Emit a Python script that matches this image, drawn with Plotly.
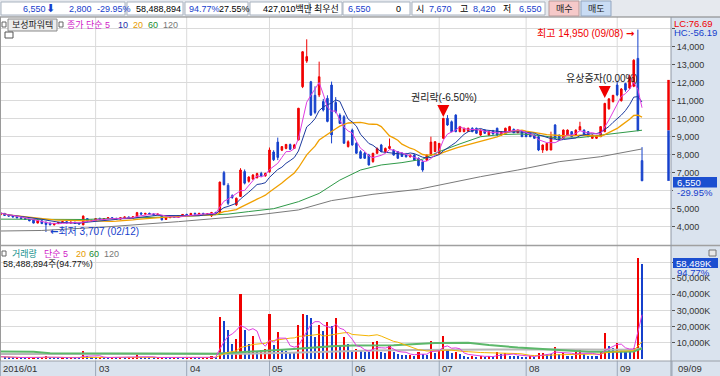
import plotly.graph_objects as go
import pandas as pd

# ---------------- data (trading-day index 0 = 2016-01-25 ... 155 = 2016-09-09) ----------------
month_pos = [0, 23, 45, 65, 85, 106, 127, 149]
month_labels = ["2016/01", "03", "04", "05", "06", "07", "08", "09"]
last_label = "09/09"

opens = [4650, 4740, 4640, 4600, 4560, 4500, 4450, 4400, 4400, 4200,
         4330, 4250, 4200, 4100, 4180, 4240, 4280, 4200, 4250, 4190,
         4100, 4450, 4300, 4350, 4460, 4400, 4450, 4500, 4460, 4420,
         4500, 4540, 4480, 4560, 4760, 4700, 4740, 4700, 4660, 4600,
         4400, 4500, 4560, 4520, 4620, 4680, 4650, 4740, 4700, 4740,
         4690, 4600, 4780, 4780, 7000, 6300, 5720, 5220, 5680, 7060,
         6520, 6650, 6720, 6960, 6820, 7050, 8150, 8700, 8250, 8350,
         8560, 8350, 8820, 11780, 13200, 12050, 11300, 11320, 10950, 11130,
         11870, 10900, 10200, 10110, 8450, 9370, 8630, 8170, 8080, 7980,
         7620, 8080, 8540, 8170, 8350, 8260, 8170, 8080, 8000, 7880,
         7980, 7800, 7600, 7700, 7980, 8170, 8080, 8910, 10020, 9830,
         10200, 9280, 9280, 9300, 9470, 9470, 9090, 9370, 9090, 9330,
         9470, 9090, 9190, 9280, 9410, 9220, 9280, 9280, 9190, 9090,
         9000, 8260, 8260, 8260, 9650, 9090, 8910, 9090, 9280, 9090,
         9370, 9370, 9280, 8910, 8910, 9000, 9280, 10550, 10950, 11870,
         11000, 11950, 11700, 11800, 13350, 7670]
highs = [4780, 4760, 4680, 4620, 4580, 4530, 4480, 4420, 4410, 4400,
         4350, 4280, 4220, 4200, 4260, 4300, 4320, 4280, 4270, 4220,
         4620, 4480, 4380, 4480, 4500, 4470, 4520, 4530, 4500, 4520,
         4560, 4560, 4560, 4820, 4800, 4760, 4780, 4740, 4720, 4620,
         4520, 4580, 4600, 4640, 4700, 4720, 4760, 4780, 4760, 4770,
         4740, 4820, 4830, 6500, 7100, 6420, 5800, 5620, 7250, 7180,
         6800, 6920, 7000, 7050, 7000, 8400, 8250, 8950, 8480, 8600,
         8620, 8600, 10600, 13750, 14410, 12100, 11800, 13170, 11100, 11300,
         12060, 11200, 10300, 10200, 8800, 9450, 8700, 8250, 8150, 8050,
         8100, 8400, 8600, 8400, 8900, 8300, 8200, 8150, 8100, 8000,
         8050, 7850, 7700, 8000, 9000, 8750, 8650, 10050, 10200, 9900,
         10250, 9600, 9500, 9500, 9520, 9500, 9400, 9420, 9300, 9380,
         9500, 9300, 9500, 9600, 9450, 9400, 9300, 9300, 9220, 9120,
         9050, 8560, 8650, 9280, 9700, 9120, 9400, 9400, 9300, 9400,
         9830, 9400, 9300, 9120, 9060, 9580, 10880, 11150, 11320, 12100,
         11700, 12000, 12450, 13300, 14950, 8420]
lows = [4620, 4600, 4560, 4520, 4470, 4420, 4380, 4300, 4180, 4190,
        4150, 3707, 4080, 4080, 4150, 4200, 4180, 4180, 4170, 4120,
        4090, 4250, 4260, 4330, 4380, 4380, 4420, 4430, 4400, 4410,
        4470, 4460, 4470, 4540, 4660, 4650, 4680, 4640, 4640, 4350,
        4380, 4480, 4500, 4510, 4600, 4620, 4640, 4680, 4680, 4670,
        4660, 4540, 4720, 4760, 6300, 5200, 5550, 5150, 5650, 6350,
        6450, 6600, 6680, 6780, 6780, 7000, 7650, 7700, 8200, 8300,
        8250, 8320, 8800, 11700, 13100, 10150, 10250, 11200, 10400, 9800,
        8630, 10300, 9700, 8600, 8400, 8500, 8050, 7780, 7780, 7400,
        7550, 8050, 8150, 8100, 8300, 7950, 7780, 7880, 7850, 7850,
        7650, 7350, 7050, 7650, 7950, 8150, 8050, 8900, 9600, 9250,
        9250, 9250, 9250, 9280, 9250, 9150, 9050, 9150, 9050, 9120,
        9050, 9050, 9150, 9250, 9200, 9200, 8980, 8980, 8980, 8880,
        8200, 8100, 8200, 8250, 8880, 8780, 8880, 9050, 8980, 9050,
        9350, 9050, 8980, 8880, 8880, 8980, 9250, 10500, 10900, 11250,
        10950, 11500, 11650, 11750, 9300, 6550]
closes = [4760, 4620, 4590, 4540, 4490, 4450, 4400, 4330, 4200, 4360,
          4170, 4120, 4100, 4180, 4240, 4280, 4200, 4250, 4190, 4150,
          4590, 4300, 4350, 4450, 4400, 4450, 4500, 4460, 4420, 4500,
          4540, 4480, 4550, 4780, 4700, 4740, 4700, 4660, 4700, 4380,
          4500, 4560, 4520, 4620, 4680, 4650, 4740, 4700, 4740, 4690,
          4720, 4790, 4760, 6480, 6330, 5300, 5620, 5580, 7150, 6420,
          6760, 6870, 6950, 6820, 6960, 8260, 7720, 7850, 8450, 8570,
          8300, 8540, 10580, 13720, 13450, 10200, 10350, 12330, 10480, 9850,
          9100, 10390, 9740, 8640, 8720, 8540, 8080, 7800, 7800, 7430,
          8080, 8350, 8170, 8350, 8460, 7980, 7800, 7900, 7880, 7980,
          7700, 7400, 7150, 7980, 8700, 8720, 8630, 10020, 9650, 9280,
          9280, 9560, 9470, 9470, 9280, 9190, 9370, 9190, 9280, 9150,
          9090, 9280, 9470, 9560, 9220, 9370, 9000, 9000, 9000, 8910,
          8260, 8540, 8630, 9000, 8910, 8820, 9370, 9370, 9000, 9370,
          9560, 9090, 9000, 9090, 9040, 9560, 10850, 11100, 11300, 11320,
          11650, 11600, 12300, 13250, 9350, 6550]
volume_k = [1300, 900, 800, 700, 900, 700, 600, 800, 1100, 900,
            1000, 1500, 900, 700, 600, 700, 600, 800, 700, 600,
            5000, 1800, 900, 800, 1000, 700, 600, 900, 700, 800,
            600, 700, 800, 2900, 1200, 800, 700, 600, 700, 1200,
            800, 600, 700, 600, 500, 600, 700, 600, 500, 700,
            800, 1600, 900, 25650, 23600, 18000, 9000, 12000, 40400, 18000,
            9000, 14000, 4500, 5600, 5900, 27900, 8300, 16500, 6200, 5000,
            4500, 4000, 21000, 27900, 27300, 25600, 13300, 21000, 17500, 22600,
            20600, 25600, 8300, 13300, 9100, 4400, 5800, 4800, 4400, 4200,
            10400, 10800, 4400, 3500, 8100, 4000, 3000, 2600, 2500, 2600,
            2000, 4400, 2700, 2600, 10800, 3300, 5400, 14300, 6200, 3500,
            4400, 2800, 1500, 1400, 2000, 1200, 1600, 1300, 1500, 1200,
            4300, 2900, 3700, 2000, 1800, 1600, 1400, 1300, 1500, 1300,
            3700, 3900, 3200, 3000, 7200, 2900, 3300, 2000, 1800, 4300,
            6000, 2900, 2000, 1800, 1500, 4300, 15800, 8100, 7000, 9500,
            5000, 4400, 4300, 7000, 62500, 58489]

# long moving averages (their windows start before the visible range)
ma60_idx = [0, 20, 43, 55, 60, 66, 72, 77, 82, 87, 92, 97, 102, 106, 111, 116, 121, 126, 131, 135, 140, 145, 150, 155]
ma60_val = [4420, 4400, 4560, 4700, 4840, 5000, 5390, 5850, 6590, 7150, 7430, 7560, 7750, 8170, 8600, 9000, 9120, 9150, 9050, 8910, 8950, 9090, 9220, 9360]
ma120_idx = [0, 10, 25, 43, 62, 72, 80, 90, 101, 106, 116, 125, 135, 145, 155]
ma120_val = [3760, 3790, 3980, 4280, 4650, 4930, 5450, 5800, 6076, 6316, 6780, 7150, 7612, 7890, 8320]
vma60_idx = [0, 8, 12, 30, 52, 56, 60, 65, 70, 75, 80, 85, 95, 105, 113, 118, 125, 135, 142, 150, 153, 154, 155]
vma60_val = [4500, 4400, 3500, 3300, 3200, 3700, 4500, 5200, 6000, 7000, 7800, 8300, 8400, 9800, 9900, 8500, 7000, 5500, 4400, 4400, 4500, 5500, 6400]
vma120_idx = [0, 52, 60, 70, 80, 90, 100, 110, 120, 140, 153, 154, 155]
vma120_val = [3000, 2800, 3200, 3800, 4600, 5100, 5400, 5600, 5700, 5700, 5600, 6100, 6500]

price_ticks = list(range(4000, 15001, 1000))
vol_ticks = [10000, 20000, 30000, 40000, 50000, 60000]

# ---------------- derived ----------------
idx = list(range(len(closes)))
cs = pd.Series(closes, dtype=float)
ma5 = cs.rolling(5, min_periods=1).mean()
ma10 = cs.rolling(10, min_periods=1).mean()
ma20 = cs.rolling(20, min_periods=1).mean()
vs = pd.Series(volume_k, dtype=float)
vma5 = vs.rolling(5, min_periods=1).mean()
vma20 = vs.rolling(20, min_periods=1).mean()

RED = "#f00000"
BLUE = "#1540cc"
GRID = "#dadada"
AXBG = "#dae3ee"
vol_colors = [RED if i == 0 or volume_k[i] >= volume_k[i - 1] else BLUE for i in idx]

# ---------------- geometry ----------------
W, H = 720, 376
ML, MR, MT, MB = 0, 49, 17, 15
PW, PH = W - ML - MR, H - MT - MB


def px(x):
    return (x - ML) / PW


def py(y):
    return (H - MB - y) / PH


XR = [-0.1, 162.0]
NUMF = "Liberation Sans, Noto Sans CJK KR, sans-serif"
KFONT = "Liberation Sans, Noto Sans CJK KR, sans-serif"
ARROWF = "font-family:'DejaVu Sans';font-weight:bold"

fig = go.Figure()
fig.add_trace(go.Candlestick(
    x=idx, open=opens, high=highs, low=lows, close=closes,
    increasing=dict(line=dict(color=RED, width=1), fillcolor=RED),
    decreasing=dict(line=dict(color=BLUE, width=1), fillcolor=BLUE),
    whiskerwidth=0, hoverinfo="skip", showlegend=False, xaxis="x", yaxis="y"))
fig.add_trace(go.Scatter(x=ma120_idx, y=ma120_val, mode="lines", line=dict(color="#7a7a7a", width=1), xaxis="x", yaxis="y"))
fig.add_trace(go.Scatter(x=ma60_idx, y=ma60_val, mode="lines", line=dict(color="#2f9a48", width=1), xaxis="x", yaxis="y"))
fig.add_trace(go.Scatter(x=idx, y=ma20, mode="lines", line=dict(color="#f0a000", width=1.3), xaxis="x", yaxis="y"))
fig.add_trace(go.Scatter(x=idx, y=ma10, mode="lines", line=dict(color="#1c3a9e", width=1), xaxis="x", yaxis="y"))
fig.add_trace(go.Scatter(x=idx, y=ma5, mode="lines", line=dict(color="#e03ce0", width=1), xaxis="x", yaxis="y"))

fig.add_trace(go.Bar(x=idx, y=volume_k, width=0.5, marker=dict(color=vol_colors, line=dict(width=0)), xaxis="x2", yaxis="y2"))
fig.add_trace(go.Scatter(x=vma120_idx, y=vma120_val, mode="lines", line=dict(color="#b8b8b8", width=2), xaxis="x2", yaxis="y2"))
fig.add_trace(go.Scatter(x=vma60_idx, y=vma60_val, mode="lines", line=dict(color="#5cb86a", width=2), xaxis="x2", yaxis="y2"))
fig.add_trace(go.Scatter(x=idx, y=vma20, mode="lines", line=dict(color="#f5b400", width=1), xaxis="x2", yaxis="y2"))
fig.add_trace(go.Scatter(x=idx, y=vma5, mode="lines", line=dict(color="#e03ce0", width=1), xaxis="x2", yaxis="y2"))

axis_font = dict(family="Liberation Sans, sans-serif", size=9, color="#333333")
fig.update_layout(
    width=W, height=H, margin=dict(l=ML, r=MR, t=MT, b=MB, autoexpand=False),
    paper_bgcolor="white", plot_bgcolor="white", showlegend=False, hovermode=False,
    boxgap=0.45, bargap=0,
    xaxis=dict(domain=[0, 1], range=XR, showgrid=False, zeroline=False, showticklabels=False,
               rangeslider=dict(visible=False), anchor="y", showline=False, ticks=""),
    xaxis2=dict(domain=[0, 1], range=XR, showgrid=False, zeroline=False, showticklabels=False,
                anchor="y2", showline=False, ticks=""),
    yaxis=dict(domain=[py(245), 1], range=[2983, 15650], side="right", anchor="x",
               tickvals=price_ticks, ticktext=[f"{v:,}" if v < 15000 else "" for v in price_ticks],
               showgrid=True, gridcolor=GRID, gridwidth=1, zeroline=False,
               ticks="outside", ticklen=3, tickcolor="#555555", tickfont=axis_font,
               showline=False),
    yaxis2=dict(domain=[0, py(247)], range=[-1360, 69300], side="right", anchor="x2",
                tickvals=vol_ticks, ticktext=[f"{v:,}K" for v in vol_ticks],
                showgrid=True, gridcolor=GRID, gridwidth=1, zeroline=False,
                ticks="outside", ticklen=3, tickcolor="#555555", tickfont=axis_font,
                showline=False),
)

shapes = []
ann = []


def rect(x0, y0, x1, y1, fill, line=None, layer="above", lw=1):
    shapes.append(dict(type="rect", xref="paper", yref="paper", x0=px(x0), x1=px(x1), y0=py(y1), y1=py(y0),
                       fillcolor=fill, line=dict(color=line or fill, width=lw if line else 0), layer=layer))


def hline(x0, x1, y, color, w=1):
    shapes.append(dict(type="line", xref="paper", yref="paper", x0=px(x0), x1=px(x1), y0=py(y), y1=py(y),
                       line=dict(color=color, width=w), layer="above"))


def vline(x, y0, y1, color, w=1):
    shapes.append(dict(type="line", xref="paper", yref="paper", x0=px(x), x1=px(x), y0=py(y0), y1=py(y1),
                       line=dict(color=color, width=w), layer="above"))


def text(x, y, s, color="#000000", size=9, anchor="left", family=NUMF, bg=None):
    a = dict(xref="paper", yref="paper", x=px(x), y=py(y), text=s, showarrow=False,
             xanchor=anchor, yanchor="middle", borderpad=0,
             font=dict(family=family, size=size, color=color))
    if bg:
        a["bgcolor"] = bg
    ann.append(a)


# backgrounds outside the plot area
rect(671, 17, 720, 376, AXBG, layer="below")
rect(0, 361, 720, 376, AXBG, layer="below")
rect(0, 0, 720, 17, "#e6e9ee", layer="below")

# month grid lines across both panels and separators in the date strip
for m in month_pos[1:]:
    shapes.append(dict(type="line", xref="x", yref="paper", x0=m, x1=m, y0=0, y1=1,
                       line=dict(color=GRID, width=1), layer="below"))
for m in month_pos:
    xx = 0.4 + 4.14 * m
    vline(xx, 361, 376, "#9aa7b8")
vline(672, 361, 376, "#9aa7b8")

# frame lines
hline(0, 720, 17, "#7f7f7f")
hline(0, 720, 245.5, "#a0a0a0", 1.5)
hline(0, 720, 361, "#9aa0a8")
vline(671, 17, 376, "#8f98a4")
vline(0.5, 17, 361, "#9a9a9a")

# price-limit bar beside the last candle
prev_close = closes[-2]
shapes.append(dict(type="rect", xref="x", yref="y", x0=161.1, x1=161.7, y0=prev_close, y1=prev_close * 1.3,
                   fillcolor=RED, line=dict(width=0)))
shapes.append(dict(type="rect", xref="x", yref="y", x0=161.1, x1=161.7, y0=prev_close * 0.7, y1=prev_close,
                   fillcolor=BLUE, line=dict(width=0)))

# ---------------- header strip ----------------
for (x0, x1) in [(1, 125), (127, 183), (185, 248), (250, 309), (310, 342), (343, 410), (412, 545)]:
    rect(x0, 2, x1, 15, "white", "#a9b3c0")
rect(549, 1, 579, 16, "#f6c9c9", "#b79a9a")
rect(581, 1, 611, 16, "#c9dcf4", "#93a6bf")
HY = 8.5
text(22, HY, "6,550", "#1540cc")
text(45, HY, "⬇", "#1540cc", 11, family="DejaVu Sans")
text(68, HY, "2,800", "#1540cc")
text(96, HY, "-29.95%", "#1540cc")
text(135, HY, "58,488,894")
text(188, HY, "94.77%", "#1540cc")
text(218, HY, "27.55%")
text(262, HY, "427,010백만")
text(313, HY, "최우선")
text(347, HY, "6,550", "#1540cc")
text(395, HY, "0")
text(415, HY, "시")
text(428, HY, "7,670", "#1540cc")
text(459, HY, "고")
text(472, HY, "8,420", "#1540cc")
text(502, HY, "저")
text(518, HY, "6,550", "#1540cc")
text(564, HY, "매수", "#222222", 9, "center")
text(596, HY, "매도", "#222222", 9, "center")

# ---------------- price legend ----------------
rect(2, 22, 6, 27, "white", "#666666")
rect(8, 19, 57, 31, "#ececec", "#8a8a8a")
text(11, 25, "보성파워텍", "#222222")
rect(59, 22, 63, 27, "white", "#666666")
text(66, 25, "종가 단순 5", "#d020c8")
text(117, 25, "10", "#1c2ea8")
text(132, 25, "20", "#e69a00")
text(147, 25, "60", "#1a8a30")
text(162, 25, "120", "#777777")
rect(5, 32, 13, 38, "white", "#555555")

# ---------------- volume legend ----------------
rect(2, 251, 6, 256, "white", "#666666")
text(11, 253.5, "거래량", "#13908c")
text(43, 253.5, "단순 5", "#d020c8")
text(75, 253.5, "20", "#e69a00")
text(88, 253.5, "60", "#1a8a30")
text(103, 253.5, "120", "#777777")
text(2, 264, "58,488,894주(94.77%)", "#111111")
rect(709, 250, 716, 256, "#e8e8e8", "#777777")

# ---------------- right axis extras ----------------
text(673, 23, "LC:76.69", RED, 9.5)
text(673, 32.5, "HC:-56.19", "#1540cc", 9.5)
rect(673, 177, 717, 187.5, "#1c4fd0")
text(676, 182.3, "6,550", "white", 9.5)
rect(673, 188, 716, 197, AXBG)
text(676, 192.5, "-29.95%", "#1540cc", 9.5)
rect(673, 258, 718, 268, "#1c4fd0")
text(675, 263, "58,489K", "white", 9.5)
text(676, 272.5, "94.77%", "#1540cc", 9.5)

# ---------------- date strip labels ----------------
for m, lab in zip(month_pos, month_labels):
    text(0.4 + 4.14 * m + 2, 368.5, lab, "#333333", 9.5)
text(677, 368.5, last_label, "#333333", 9.5)

# ---------------- event markers on the price panel ----------------
ann.append(dict(xref="x", yref="y", x=153.6, y=14740,
                text=f"최고 14,950 (09/08) <span style=\"{ARROWF}\">→</span>", showarrow=False,
                xanchor="right", yanchor="middle", font=dict(family=KFONT, size=10, color=RED)))
ann.append(dict(xref="x", yref="y", x=11.4, y=3733,
                text=f"<span style=\"{ARROWF}\">←</span>최저 3,707 (02/12)", showarrow=False,
                xanchor="left", yanchor="middle", font=dict(family=KFONT, size=10, color="#1540cc")))
ann.append(dict(xref="x", yref="y", x=107.1, y=11205, text="권리락(-6.50%)", showarrow=False,
                xanchor="center", yanchor="middle", font=dict(family=KFONT, size=10, color="#222222")))
ann.append(dict(xref="x", yref="y", x=107, y=10090, text="", showarrow=True, ax=0, ay=-13,
                arrowhead=2, arrowsize=1.2, arrowwidth=2, arrowcolor=RED))
ann.append(dict(xref="x", yref="y", x=145.4, y=12233, text="유상증자(0.00%)", showarrow=False,
                xanchor="center", yanchor="middle", font=dict(family=KFONT, size=10, color="#222222")))
ann.append(dict(xref="x", yref="y", x=146, y=11150, text="", showarrow=True, ax=0, ay=-13,
                arrowhead=2, arrowsize=1.2, arrowwidth=2, arrowcolor=RED))

fig.update_layout(shapes=shapes, annotations=ann)
fig.write_html("out.html", config={"displayModeBar": False},
               post_script="document.body.style.margin='0';document.body.style.overflow='hidden';")
